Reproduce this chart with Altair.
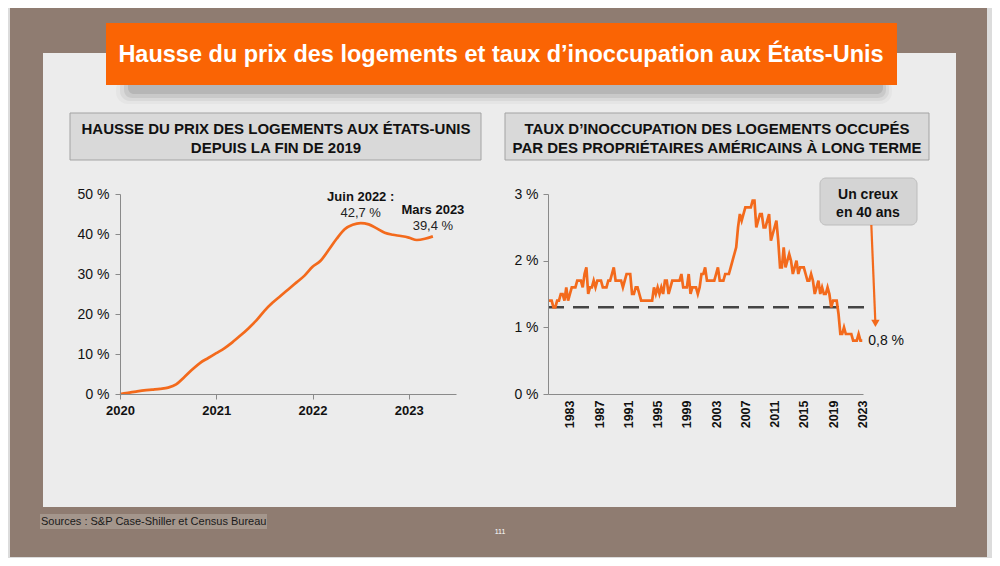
import altair as alt
import pandas as pd

# ---------------- data ----------------
# Left: cumulative house price rise since end of 2019 (monthly, Jan 2020 index 0 .. Mar 2023)
price_month_index = list(range(40))
price_growth = [0, 0.3, 0.6, 0.9, 1.1, 1.3, 1.6, 2.4, 4.2, 6.1,
                7.8, 9.0, 10.2, 11.4, 12.9, 14.6, 16.4, 18.4, 20.8, 22.8,
                24.5, 26.2, 27.9, 29.6, 31.8, 33.3, 36.0, 38.8, 41.2, 42.3,
                42.7, 42.4, 41.4, 40.3, 39.8, 39.5, 39.1, 38.5, 38.8, 39.4]
price_year_ticks = [2020, 2021, 2022, 2023]
price_pct_ticks = [0, 10, 20, 30, 40, 50]

# Right: homeowner vacancy rate, quarterly 1980Q1 .. 2023Q1
vacancy_quarter_index = list(range(173))
vacancy_rate = [
    1.4, 1.4, 1.4, 1.3,  1.3, 1.4, 1.4, 1.5,  1.5, 1.4, 1.6, 1.4,  1.5, 1.6, 1.6, 1.6,
    1.7, 1.7, 1.7, 1.6,  1.8, 1.9, 1.5, 1.6,  1.6, 1.7, 1.6, 1.7,  1.7, 1.7, 1.6, 1.6,
    1.6, 1.7, 1.7, 1.8,  1.9, 1.7, 1.7, 1.7,  1.7, 1.6, 1.7, 1.8,  1.8, 1.8, 1.5, 1.5,
    1.6, 1.6, 1.5, 1.4,  1.4, 1.4, 1.4, 1.4,  1.4, 1.4, 1.6, 1.5,  1.6, 1.5, 1.6, 1.5,
    1.7, 1.7, 1.5, 1.6,  1.7, 1.7, 1.7, 1.7,  1.7, 1.8, 1.6, 1.6,  1.6, 1.8, 1.5, 1.6,
    1.6, 1.6, 1.5, 1.6,  1.8, 1.8, 1.9, 1.7,  1.7, 1.7, 1.7, 1.7,  1.8, 1.9, 1.7, 1.7,
    1.7, 1.8, 1.8, 1.8,  1.9, 2.0, 2.1, 2.2,  2.5, 2.7, 2.6, 2.7,  2.8, 2.8, 2.8, 2.8,
    2.9, 2.9, 2.5, 2.6,  2.7, 2.7, 2.5, 2.5,  2.6, 2.7, 2.3, 2.4,  2.5, 2.6, 2.3, 1.9,
    1.9, 2.2, 1.9, 2.0,  2.1, 2.0, 1.8, 1.9,  2.0, 1.8, 1.9, 1.9,  1.9, 1.8, 1.7, 1.7,
    1.8, 1.7, 1.5, 1.6,  1.7, 1.5, 1.6, 1.5,  1.5, 1.6, 1.5, 1.3,  1.4, 1.4, 1.4, 1.2,
    0.9, 0.9, 1.0, 0.9,  0.9, 0.9, 0.9, 0.8,  0.8, 0.8, 0.9, 0.8,  0.8,
]
vacancy_year_ticks = [1983, 1987, 1991, 1995, 1999, 2003, 2007, 2011, 2015, 2019, 2023]
vacancy_pct_ticks = [0, 1, 2, 3]
reference_level = 1.3

price_df = pd.DataFrame({"year": [2020 + m / 12 for m in price_month_index],
                         "value": price_growth})
vac_df = pd.DataFrame({"year": [1980 + q / 4 for q in vacancy_quarter_index],
                       "value": vacancy_rate})

# ---------------- styles ----------------
ORANGE = "#f36a1c"
NARROW = "'Liberation Sans Narrow', 'Arial Narrow', 'Liberation Sans', Arial, sans-serif"
SANS = "'Liberation Sans', Arial, sans-serif"
W, H = 984, 550

dummy = alt.Data(values=[{"d": 0}])


def rect(x, x2, y, y2, **kw):
    return alt.Chart(dummy).mark_rect(**kw).encode(
        x=alt.value(x), x2=alt.value(x2), y=alt.value(y), y2=alt.value(y2))


def label(x, y, s, **kw):
    return alt.Chart(dummy).mark_text(**kw).encode(
        x=alt.value(x), y=alt.value(y), text=alt.value(s))


deco = [
    rect(2, 979, 0, 549, color="#8f7c71"),
    rect(35, 948, 45, 499, color="#ececec"),
    rect(108, 884, 70, 96, color="#8a8a8a", opacity=0.07, cornerRadius=12),
    rect(112, 881, 70, 93, color="#7a7a7a", opacity=0.10, cornerRadius=10),
    rect(116, 878, 70, 90, color="#6a6a6a", opacity=0.14, cornerRadius=8),
    rect(120, 875, 70, 86, color="#5a5a5a", opacity=0.16, cornerRadius=6),
    rect(98, 889, 15, 77, color="#fa6404"),
    label(493, 47, "Hausse du prix des logements et taux d\u2019inoccupation aux \u00c9tats-Unis",
          font=SANS, fontSize=23.5, fontWeight="bold", color="white", align="center", baseline="middle"),
    rect(62, 473, 105, 152, color="#d9d9d9", stroke="#a3a3a3", strokeWidth=1),
    label(268, 121, "HAUSSE DU PRIX DES LOGEMENTS AUX \u00c9TATS-UNIS",
          font=NARROW, fontSize=15, fontWeight="bold", color="#111", align="center", baseline="middle"),
    label(268, 140, "DEPUIS LA FIN DE 2019",
          font=NARROW, fontSize=15, fontWeight="bold", color="#111", align="center", baseline="middle"),
    rect(497, 921, 105, 152, color="#d9d9d9", stroke="#a3a3a3", strokeWidth=1),
    label(709, 121, "TAUX D\u2019INOCCUPATION DES LOGEMENTS OCCUP\u00c9S",
          font=NARROW, fontSize=15, fontWeight="bold", color="#111", align="center", baseline="middle"),
    label(709, 140, "PAR DES PROPRI\u00c9TAIRES AM\u00c9RICAINS \u00c0 LONG TERME",
          font=NARROW, fontSize=15, fontWeight="bold", color="#111", align="center", baseline="middle"),
    rect(812, 909, 170, 217, color="#d4d4d4", stroke="#bcbcbc", strokeWidth=1, cornerRadius=6),
    label(860, 187, "Un creux", font=SANS, fontSize=14, fontWeight="bold", color="#111",
          align="center", baseline="middle"),
    label(860, 205, "en 40 ans", font=SANS, fontSize=14, fontWeight="bold", color="#111",
          align="center", baseline="middle"),
    rect(32, 259, 506, 521, color="#a4968c"),
    label(33, 514, "Sources : S&P Case-Shiller et Census Bureau", font=SANS, fontSize=11,
          color="#1a1a1a", align="left", baseline="middle"),
    label(492, 524, "111", font=SANS, fontSize=7, color="white", align="center", baseline="middle"),
]

axis_common = dict(title=None, grid=False, domainColor="#8a8a8a", tickColor="#8a8a8a",
                   labelColor="#111", labelFont=SANS, labelFlush=False, labelOverlap=False,
                   zindex=1)

# ---------------- left chart ----------------
lx_scale = alt.Scale(domain=[2020, 2023.49], range=[112, 448], nice=False, zero=False)
ly_scale = alt.Scale(domain=[0, 50], range=[386, 186], nice=False)
lx_axis = alt.Axis(orient="bottom", offset=-164, values=price_year_ticks, format="d",
                   tickSize=5, labelPadding=5, labelFontSize=13, labelFontWeight="bold",
                   **axis_common)
ly_axis = alt.Axis(orient="left", offset=-112, values=price_pct_ticks,
                   labelExpr="datum.value + ' %'", tickSize=5, labelPadding=6,
                   labelFontSize=14, **axis_common)


def lx(field):
    return alt.X(field, scale=lx_scale, axis=lx_axis)


def ly(field):
    return alt.Y(field, scale=ly_scale, axis=ly_axis)


left_line = alt.Chart(price_df).mark_line(color=ORANGE, strokeWidth=2.7, interpolate="monotone").encode(
    x=lx("year:Q"), y=ly("value:Q"))

left_notes = pd.DataFrame({"year": [2022.5, 2023.25], "value": [42.7, 39.4],
                           "title": ["Juin 2022 :", "Mars 2023"],
                           "amount": ["42,7 %", "39,4 %"]})
left_bold = alt.Chart(left_notes).mark_text(font=NARROW, fontSize=13, fontWeight="bold",
                                            color="#111", dy=-26, baseline="middle").encode(
    x=lx("year:Q"), y=ly("value:Q"), text="title:N")
left_norm = alt.Chart(left_notes).mark_text(font=NARROW, fontSize=13, color="#222",
                                            dy=-10, baseline="middle").encode(
    x=lx("year:Q"), y=ly("value:Q"), text="amount:N")

left_layer = alt.layer(left_line, left_bold, left_norm)

# ---------------- right chart ----------------
rx_scale = alt.Scale(domain=[1980, 2023.1], range=[540, 855], nice=False, zero=False)
ry_scale = alt.Scale(domain=[0, 3], range=[386, 186], nice=False)
rx_axis = alt.Axis(orient="bottom", offset=-164, values=vacancy_year_ticks, format="d",
                   ticks=False, labelAngle=270, labelPadding=6, labelFontSize=12.5,
                   labelFontWeight="bold", **axis_common)
ry_axis = alt.Axis(orient="left", offset=-540, values=vacancy_pct_ticks,
                   labelExpr="datum.value + ' %'", tickSize=5, labelPadding=5,
                   labelFontSize=14, **axis_common)


def rx(field):
    return alt.X(field, scale=rx_scale, axis=rx_axis)


def ry(field):
    return alt.Y(field, scale=ry_scale, axis=ry_axis)


ref_df = pd.DataFrame({"year": [1980], "year2": [2023.4], "value": [reference_level]})
ref_rule = alt.Chart(ref_df).mark_rule(color="#444444", strokeWidth=2.5, strokeDash=[16, 9]).encode(
    x=rx("year:Q"), x2="year2:Q", y=ry("value:Q"))

right_line = alt.Chart(vac_df).mark_line(color=ORANGE, strokeWidth=2.7).encode(
    x=rx("year:Q"), y=ry("value:Q"))

low_df = pd.DataFrame({"year": [2023.0], "value": [0.8], "txt": ["0,8 %"]})
low_text = alt.Chart(low_df).mark_text(font=SANS, fontSize=14, color="#111", align="left",
                                       dx=6, baseline="middle").encode(
    x=rx("year:Q"), y=ry("value:Q"), text="txt:N")

arrow_df = pd.DataFrame({"year": [2024.24], "year2": [2024.78], "value": [2.535], "value2": [1.1]})
arrow_line = alt.Chart(arrow_df).mark_rule(color=ORANGE, strokeWidth=2.2).encode(
    x=rx("year:Q"), x2="year2:Q", y=ry("value:Q"), y2="value2:Q")
head_df = pd.DataFrame({"year": [2024.8], "value": [1.06]})
arrow_head = alt.Chart(head_df).mark_point(shape="triangle-down", filled=True, color=ORANGE,
                                           size=70, opacity=1).encode(
    x=rx("year:Q"), y=ry("value:Q"))

right_layer = alt.layer(ref_rule, right_line, low_text, arrow_line, arrow_head)

chart = alt.layer(*deco, left_layer, right_layer).resolve_scale(
    x="independent", y="independent"
).properties(
    width=W, height=H, padding=0, autosize=alt.AutoSizeParams(type="none")
).configure(background="#dcdcdc").configure_view(strokeWidth=0)

chart.save("out.html", embed_options={"renderer": "svg", "actions": False})
